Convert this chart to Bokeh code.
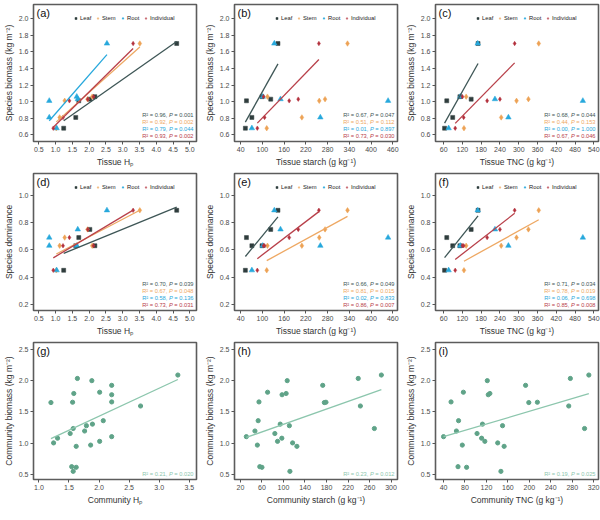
import numpy as np
from bokeh.plotting import figure
from bokeh.layouts import gridplot
from bokeh.models import Range1d, FixedTicker, Label, Legend, LegendItem, PrintfTickFormatter
from bokeh.embed import file_html
from bokeh.resources import INLINE

# ---------------- data ----------------
groups = ["Leaf", "Stem", "Root", "Individual"]
group_colors = ["#2f3d3d", "#eda255", "#27a8dc", "#b3303c"]
line_colors = ["#3e5656", "#eea863", "#27a8dc", "#b8404a"]
group_markers = ["square", "diamond", "triangle", "diamond"]
group_sizes = [4, 5.5, 5.5, 4.5]

species_biomass = [0.68, 0.81, 1.01, 1.03, 1.06, 1.70]
species_dominance = [0.45, 0.63, 0.69, 0.75, 0.63, 0.89]

hp_leaf = [1.24, 1.60, 1.69, 2.02, 2.17, 4.61]
hp_stem = [1.02, 1.12, 1.27, 1.95, 2.09, 3.51]
hp_root = [1.03, 0.81, 0.81, 1.66, 1.63, 2.53]
hp_individual = [0.93, 1.22, 1.41, 1.96, 2.13, 3.31]

starch_leaf = [53, 71, 56, 123, 99, 143]
starch_stem = [112, 209, 257, 273, 114, 335]
starch_root = [71, 260, 447, 150, 101, 133]
starch_individual = [86, 106, 174, 199, 103, 256]

tnc_leaf = [63, 89, 70, 148, 112, 170]
tnc_stem = [125, 244, 293, 331, 132, 364]
tnc_root = [76, 267, 505, 224, 113, 169]
tnc_individual = [97, 124, 199, 240, 120, 287]

r2_a = ["0.96", "0.92", "0.79", "0.93"]; p_a = ["0.001", "0.002", "0.044", "0.002"]
r2_b = ["0.67", "0.51", "0.01", "0.73"]; p_b = ["0.047", "0.112", "0.897", "0.030"]
r2_c = ["0.68", "0.44", "0.00", "0.67"]; p_c = ["0.044", "0.153", "1.000", "0.046"]
r2_d = ["0.70", "0.67", "0.58", "0.73"]; p_d = ["0.039", "0.048", "0.136", "0.031"]
r2_e = ["0.66", "0.81", "0.02", "0.86"]; p_e = ["0.049", "0.015", "0.833", "0.007"]
r2_f = ["0.71", "0.78", "0.06", "0.85"]; p_f = ["0.034", "0.019", "0.698", "0.008"]

community_biomass = [0.55, 0.615, 0.625, 0.95, 0.97, 1.005, 1.03, 1.08, 1.105, 1.155, 1.195,
                     1.235, 1.28, 1.305, 1.36, 1.595, 1.65, 1.655, 1.66, 1.775, 1.795, 1.815,
                     1.925, 2.00, 2.035, 2.09]
community_hp = [1.57, 1.62, 1.545, 1.62, 1.86, 1.244, 2.01, 1.31, 2.21, 1.52, 1.76, 1.57, 1.79,
                1.89, 2.07, 2.69, 1.20, 1.56, 2.21, 2.21, 1.58, 2.01, 2.21, 1.88, 1.64, 3.31]
community_starch = [112, 60, 56, 125, 51.5, 117, 89, 97, 31, 84, 47, 269, 111, 94, 53, 243,
                    176, 179, 54.5, 97.4, 105, 70.5, 173, 107, 239, 282]
community_tnc = [147, 83, 67, 153, 75, 141, 117, 111, 40, 102.5, 64, 303, 150, 112.6, 68,
                 273.5, 199, 215, 54, 123.4, 126.4, 77, 193, 121.6, 276.5, 311]
r2_g = ["0.21"]; p_g = ["0.020"]
r2_h = ["0.23"]; p_h = ["0.012"]
r2_i = ["0.19"]; p_i = ["0.025"]

community_point_color = "#5fa388"
community_line_color = "#8cc6ad"

ticks_hp = [0.5, 1.0, 1.5, 2.0, 2.5, 3.0, 3.5, 4.0, 4.5, 5.0]
ticks_starch = [40, 100, 160, 220, 280, 340, 400, 460]
ticks_tnc = [60, 120, 180, 240, 300, 360, 420, 480, 540]
ticks_biomass = [0.6, 0.8, 1.0, 1.2, 1.4, 1.6, 1.8, 2.0]
ticks_dominance = [0.2, 0.4, 0.6, 0.8, 1.0]
ticks_comm_hp = [1.0, 1.5, 2.0, 2.5, 3.0, 3.5]
ticks_comm_starch = [20, 60, 100, 140, 180, 220, 260, 300]
ticks_comm_tnc = [40, 80, 120, 160, 200, 240, 280, 320]
ticks_comm_biomass = [0.5, 1.0, 1.5, 2.0, 2.5]

# ---------------- helpers ----------------
FONT = "Liberation Sans"
FW, FH = 163, 137
CW = {'.': .278, ',': .278, ' ': .278, '=': .584, 'R': .722, '²': .333, 'P': .667,
      'L': .556, 'e': .556, 'a': .556, 'f': .278, 'S': .667, 't': .278, 'm': .833,
      'o': .556, 'I': .278, 'n': .556, 'd': .556, 'i': .222, 'v': .5, 'u': .556, 'l': .222}


def tw(s, fs):
    return sum(CW.get(c, .556) for c in s) * fs


def make_fig(xr, yr, xticks, yticks, xfmt, yfmt, xlabel, ylabel, letter):
    p = figure(frame_width=FW, frame_height=FH, x_range=Range1d(*xr), y_range=Range1d(*yr),
               output_backend="svg", toolbar_location=None,
               min_border_left=2, min_border_right=5, min_border_top=4, min_border_bottom=2)
    p.outline_line_color = "#5c5c5c"
    p.outline_line_width = 1.6
    p.xgrid.visible = False
    p.ygrid.visible = False
    for ax in (p.xaxis, p.yaxis):
        ax.axis_line_color = None
        ax.major_tick_line_color = "#555555"
        ax.major_tick_out = 3
        ax.major_tick_in = 0
        ax.minor_tick_line_color = None
        ax.major_label_text_font = FONT
        ax.major_label_text_font_size = "7px"
        ax.major_label_text_color = "#4a4a4a"
        ax.axis_label_text_font = FONT
        ax.axis_label_text_font_size = "8.5px"
        ax.axis_label_text_font_style = "normal"
        ax.axis_label_text_color = "#333333"
        ax.axis_label_standoff = 2
        ax.major_label_standoff = 2
    p.xaxis.ticker = FixedTicker(ticks=xticks)
    p.yaxis.ticker = FixedTicker(ticks=yticks)
    p.xaxis.formatter = PrintfTickFormatter(format=xfmt)
    p.yaxis.formatter = PrintfTickFormatter(format=yfmt)
    p.xaxis.axis_label = xlabel
    p.yaxis.axis_label = ylabel
    p.add_layout(Label(x=xr[0], y=yr[1], x_offset=3, y_offset=-2, text=letter,
                       text_baseline="top", text_align="left", text_font=FONT,
                       text_font_size="11px", text_color="#111111"))
    return p


def add_stats(p, xr, yr, r2s, ps, colors):
    fs = 5.7
    n = len(r2s)
    for i in range(n):
        yo = 3 + (n - 1 - i) * 6.9
        c = colors[i]
        p3 = "= " + ps[i]
        p1 = "R² = " + r2s[i] + ","
        off3 = -3
        off2 = off3 - tw(p3, fs) - tw(" ", fs)
        off1 = off2 - tw("P", fs) - tw(" ", fs)
        for txt, off, style in ((p3, off3, "normal"), ("P", off2, "italic"), (p1, off1, "normal")):
            p.add_layout(Label(x=xr[1], y=yr[0], x_offset=off, y_offset=yo, text=txt,
                               text_align="right", text_baseline="bottom", text_font=FONT,
                               text_font_size=f"{fs}px", text_font_style=style,
                               text_color=c))


def species_panel(xs_list, yvals, xr, yr, xticks, yticks, xfmt, yfmt, xlabel, ylabel,
                  letter, r2s, ps):
    p = make_fig(xr, yr, xticks, yticks, xfmt, yfmt, xlabel, ylabel, letter)
    rends = []
    for g, xs, col, mk, sz in zip(groups, xs_list, group_colors, group_markers, group_sizes):
        r = p.scatter(xs, yvals, marker=mk, size=sz, fill_color=col, line_color=col,
                      line_width=0.5)
        rends.append(r)
    for xs, lc, pv in zip(xs_list, line_colors, ps):
        if float(pv) < 0.05:
            k, b = np.polyfit(xs, yvals, 1)
            ex = [min(xs), max(xs)]
            p.line(ex, [k * v + b for v in ex], line_color=lc, line_width=1.3)
    # one small legend per entry, laid side by side
    fs = 5.8
    gw, st, gap = 5, 2, 4
    lx = 0.245 * FW
    ly = FH - 14 - 3
    for g, r in zip(groups, rends):
        leg = Legend(items=[LegendItem(label=g, renderers=[r])], location=(int(round(lx)), ly),
                     orientation="horizontal", background_fill_alpha=0,
                     border_line_color=None, label_text_font=FONT,
                     label_text_font_size=f"{fs}px", label_text_color="#222222",
                     glyph_width=gw, glyph_height=6, label_standoff=st, spacing=0,
                     padding=0, margin=0, label_height=6, label_width=1)
        p.add_layout(leg)
        lx += gw + st + tw(g, fs) + gap
    add_stats(p, xr, yr, r2s, ps, line_colors)
    return p


def community_panel(xs, yvals, xr, yr, xticks, yticks, xfmt, yfmt, xlabel, ylabel,
                    letter, r2s, ps):
    p = make_fig(xr, yr, xticks, yticks, xfmt, yfmt, xlabel, ylabel, letter)
    p.scatter(xs, yvals, marker="circle", size=4.2, fill_color=community_point_color,
              line_color=community_point_color)
    k, b = np.polyfit(xs, yvals, 1)
    ex = [min(xs), max(xs)]
    p.line(ex, [k * v + b for v in ex], line_color=community_line_color, line_width=1.3)
    add_stats(p, xr, yr, r2s, ps, [community_line_color])
    return p


hp_groups = [hp_leaf, hp_stem, hp_root, hp_individual]
starch_groups = [starch_leaf, starch_stem, starch_root, starch_individual]
tnc_groups = [tnc_leaf, tnc_stem, tnc_root, tnc_individual]

yr1 = (0.52, 2.17)
yr2 = (0.155, 1.16)
yr3 = (0.42, 2.61)
xr_hp = (0.34, 5.2)
xr_st = (23, 473)
xr_tnc = (34, 555)

lab_bm = "Species biomass (kg m⁻²)"
lab_dom = "Species dominance"
lab_cbm = "Community biomass (kg m⁻²)"

pa = species_panel(hp_groups, species_biomass, xr_hp, yr1, ticks_hp, ticks_biomass, "%.1f", "%.1f",
                   "Tissue Hₚ", lab_bm, "(a)", r2_a, p_a)
pb = species_panel(starch_groups, species_biomass, xr_st, yr1, ticks_starch, ticks_biomass, "%d", "%.1f",
                   "Tissue starch (g kg⁻¹)", lab_bm, "(b)", r2_b, p_b)
pc = species_panel(tnc_groups, species_biomass, xr_tnc, yr1, ticks_tnc, ticks_biomass, "%d", "%.1f",
                   "Tissue TNC (g kg⁻¹)", lab_bm, "(c)", r2_c, p_c)
pd_ = species_panel(hp_groups, species_dominance, xr_hp, yr2, ticks_hp, ticks_dominance, "%.1f", "%.1f",
                    "Tissue Hₚ", lab_dom, "(d)", r2_d, p_d)
pe = species_panel(starch_groups, species_dominance, xr_st, yr2, ticks_starch, ticks_dominance, "%d", "%.1f",
                   "Tissue starch (g kg⁻¹)", lab_dom, "(e)", r2_e, p_e)
pf = species_panel(tnc_groups, species_dominance, xr_tnc, yr2, ticks_tnc, ticks_dominance, "%d", "%.1f",
                   "Tissue TNC (g kg⁻¹)", lab_dom, "(f)", r2_f, p_f)
pg = community_panel(community_hp, community_biomass, (0.91, 3.62), yr3, ticks_comm_hp, ticks_comm_biomass,
                     "%.1f", "%.1f", "Community Hₚ", lab_cbm, "(g)", r2_g, p_g)
ph = community_panel(community_starch, community_biomass, (9, 312), yr3, ticks_comm_starch, ticks_comm_biomass,
                     "%d", "%.1f", "Community starch (g kg⁻¹)", lab_cbm, "(h)", r2_h, p_h)
pi = community_panel(community_tnc, community_biomass, (25, 329), yr3, ticks_comm_tnc, ticks_comm_biomass,
                     "%d", "%.1f", "Community TNC (g kg⁻¹)", lab_cbm, "(i)", r2_i, p_i)

grid = gridplot([[pa, pb, pc], [pd_, pe, pf], [pg, ph, pi]], toolbar_location=None)

open("out.html", "w").write(file_html(grid, INLINE))
